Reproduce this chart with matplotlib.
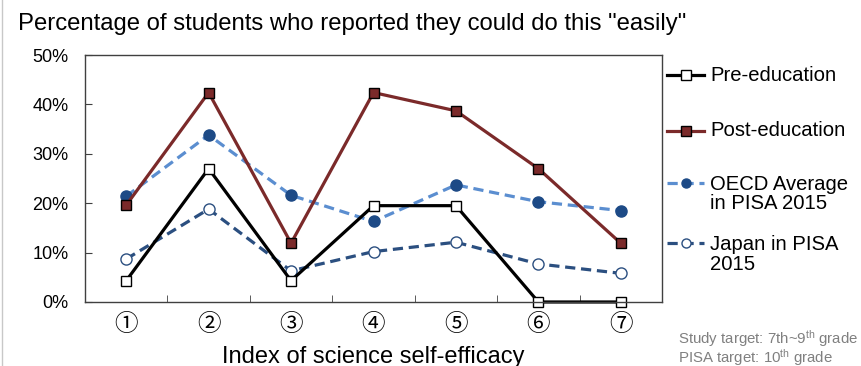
import matplotlib
matplotlib.use("Agg")
import matplotlib.pyplot as plt
import numpy as np

plt.rcParams["font.family"] = ["Liberation Sans", "DejaVu Sans"]
plt.rcParams["mathtext.fontset"] = "custom"
plt.rcParams["mathtext.rm"] = "Liberation Sans"
plt.rcParams["mathtext.it"] = "Liberation Sans"

# share of students answering "easily" for each self-efficacy item (%)
items = ["\u2460", "\u2461", "\u2462", "\u2463", "\u2464", "\u2465", "\u2466"]
pre_education = [4.3, 27.0, 4.3, 19.5, 19.5, 0.0, 0.0]
post_education = [19.6, 42.4, 11.9, 42.4, 38.7, 27.0, 11.9]
oecd_2015 = [21.4, 33.8, 21.6, 16.3, 23.7, 20.3, 18.5]
japan_2015 = [8.7, 18.8, 6.3, 10.2, 12.1, 7.7, 5.8]
y_ticks = [0, 10, 20, 30, 40, 50]

styles = [
    dict(label="Pre-education", data=pre_education, color="black", ls="-",
         marker="s", mfc="white", mec="black"),
    dict(label="Post-education", data=post_education, color="#7b2a2a", ls="-",
         marker="s", mfc="#7b2a2a", mec="black"),
    dict(label="OECD Average\nin PISA 2015", data=oecd_2015, color="#5b8ed0",
         ls=(0, (3.2, 1.8)), marker="o", mfc="#1d4a86", mec="#1d4a86"),
    dict(label="Japan in PISA\n2015", data=japan_2015, color="#2b4f80",
         ls=(0, (3.2, 1.8)), marker="o", mfc="white", mec="#2b4f80"),
]

fig = plt.figure(figsize=(8.61, 3.66), dpi=100)
ax = fig.add_axes([0.0987, 0.1749, 0.6702, 0.6748])

x = np.arange(len(items))
# draw in back-to-front order so post-education sits on top
for st in [styles[3], styles[2], styles[0], styles[1]]:
    ax.plot(x, st["data"], color=st["color"], ls=st["ls"], lw=2.3,
            marker=st["marker"], ms=7.5 if st["marker"] == "s" else 8,
            mfc=st["mfc"], mec=st["mec"], mew=1.0, clip_on=False,
            dash_capstyle="butt", solid_joinstyle="miter")

ax.set_xlim(-0.5, len(items) - 0.5)
ax.set_ylim(0, 50)
ax.set_yticks(y_ticks)
ax.set_yticklabels([f"{v}%" for v in y_ticks], fontsize=13)
ax.set_xticks(x)
ax.set_xticklabels(items, fontsize=17, family=["Noto Sans CJK JP", "DejaVu Sans"])
ax.set_xticks(np.arange(len(items) + 1) - 0.5, minor=True)
ax.tick_params(axis="x", which="major", length=0, pad=8)
ax.tick_params(axis="x", which="minor", direction="in", length=5, color="#404040")
ax.tick_params(axis="y", direction="in", length=5, color="#404040", pad=12)
for sp in ax.spines.values():
    sp.set_color("#404040")
    sp.set_linewidth(1.0)

fig.text(0.021, 0.918, 'Percentage of students who reported they could do this "easily"',
         fontsize=17.2, va="baseline", ha="left")
fig.text(0.434, 0.008, "Index of science self-efficacy", fontsize=17,
         ha="center", va="baseline")

# legend drawn beside the plot area
legend_rows = [(0.795, 0.795), (0.643, 0.643), (0.500, 0.470), (0.336, 0.305)]
for st, (hy, ty) in zip(styles, legend_rows):
    fig.add_artist(plt.Line2D([0.775, 0.818], [hy, hy], transform=fig.transFigure,
                              color=st["color"], ls=st["ls"], lw=2.3,
                              dash_capstyle="butt"))
    fig.add_artist(plt.Line2D([0.7965], [hy], transform=fig.transFigure,
                              marker=st["marker"], ms=6.5,
                              mfc=st["mfc"], mec=st["mec"], mew=1.0, ls="none"))
    fig.text(0.825, ty, st["label"], fontsize=14.6, va="center", ha="left",
             linespacing=1.05)

fig.text(0.787, 0.061, r"Study target: 7th~9$^{\mathrm{th}}$ grade", fontsize=10.8,
         color="#808080", va="baseline")
fig.text(0.787, 0.010, r"PISA target: 10$^{\mathrm{th}}$ grade", fontsize=10.8,
         color="#808080", va="baseline")

# thin slide border on the left
fig.add_artist(plt.Line2D([0.002, 0.002], [0, 1], transform=fig.transFigure,
                          color="#c8c8c8", lw=1))

fig.savefig("out.png", dpi=100)
